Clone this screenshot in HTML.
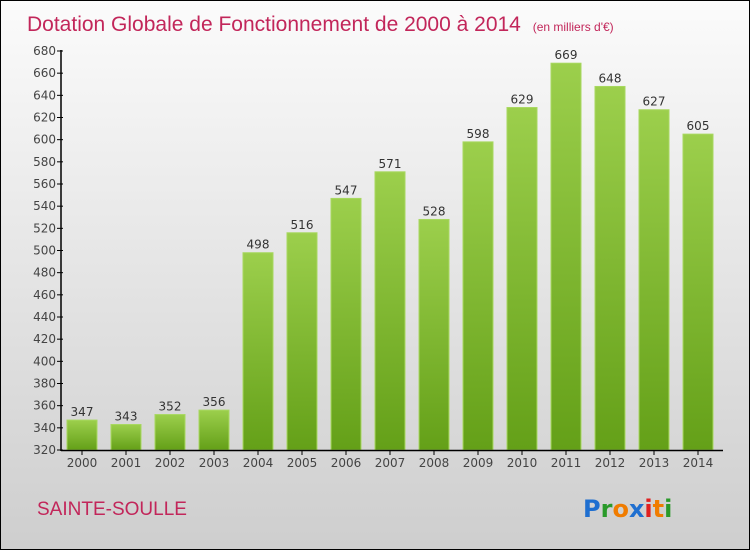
<!DOCTYPE html>
<html><head><meta charset="utf-8"><style>
body{margin:0}
#c{width:748px;height:548px;border:1px solid #000;background:linear-gradient(#fbfbfb,#cecece);position:relative;overflow:hidden;font-family:"DejaVu Sans","Liberation Sans",sans-serif}
</style></head><body>
<div id="c">
<svg width="748" height="548" xmlns="http://www.w3.org/2000/svg" id="s">
<defs><linearGradient id="g" x1="0" y1="0" x2="0" y2="1"><stop offset="0" stop-color="#9ccf4c"/><stop offset="1" stop-color="#64a018"/></linearGradient></defs>
<text x="26" y="30" font-size="21" fill="#c2265a" font-family="Liberation Sans, sans-serif">Dotation Globale de Fonctionnement de 2000 à 2014 <tspan font-size="12" dx="6">(en milliers d'€)</tspan></text>
<text x="36" y="514" font-size="19" fill="#c2265a" font-family="Liberation Sans, sans-serif">SAINTE-SOULLE</text>
<g font-family="DejaVu Sans, sans-serif" font-size="24" font-weight="bold"><text x="582" y="516" fill="#1f6fd0">P<tspan fill="#2a9a2a">r</tspan><tspan fill="#f07c00">o</tspan><tspan fill="#1f6fd0">x</tspan><tspan fill="#e02020">i</tspan><tspan fill="#f07c00">t</tspan><tspan fill="#2a9a2a">i</tspan></text></g>
<g id="plot"></g>
</svg></div>
<script>
const years=["2000","2001","2002","2003","2004","2005","2006","2007","2008","2009","2010","2011","2012","2013","2014"];
const values=[347,343,352,356,498,516,547,571,528,598,629,669,648,627,605];
const yTicks=[320,340,360,380,400,420,440,460,480,500,520,540,560,580,600,620,640,660,680];
const ns="http://www.w3.org/2000/svg";
const p=document.getElementById('plot');
const y=v=>449-(v-320)*(399/360);
const x=i=>81+i*44;
function mk(t,a){const e=document.createElementNS(ns,t);for(const k in a)e.setAttribute(k,a[k]);p.appendChild(e);return e;}
yTicks.forEach(v=>{
 const l=mk('line',{x1:56,x2:62,y1:y(v),y2:y(v),stroke:'#000'});
 
 
 const t=mk('text',{x:55,y:y(v)+4,'text-anchor':'end','font-size':12,fill:'#444'});
 t.textContent=v;
 
 
});
values.forEach((v,i)=>{
 const r=mk('rect',{x:x(i)-15,y:y(v),width:30,height:449-y(v),fill:'url(#g)',stroke:'#a8d860','stroke-width':1});
 
 
 const t=mk('text',{x:x(i),y:y(v)-4,'text-anchor':'middle','font-size':12,fill:'#333'});
 t.textContent=v;
 
 
 const tk=mk('line',{x1:x(i),x2:x(i),y1:449,y2:454,stroke:'#000'});
 
 
 const xl=mk('text',{x:x(i),y:466,'text-anchor':'middle','font-size':12,fill:'#444'});
 xl.textContent=years[i];
 
 
});
const ya=mk('line',{x1:60,x2:60,y1:49,y2:450,stroke:'#000','stroke-width':1.5});


const xa=mk('line',{x1:60,x2:722,y1:449.5,y2:449.5,stroke:'#000','stroke-width':1.5});


</script>
</body></html>
